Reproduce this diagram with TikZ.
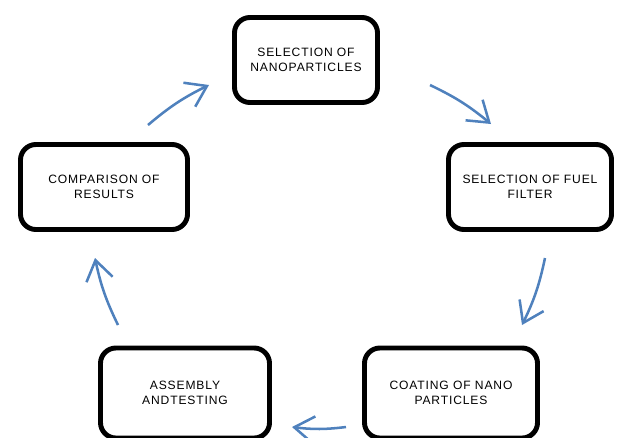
\documentclass[tikz,border=0pt]{standalone}
\usepackage{fontspec}
\setmainfont{Liberation Sans}[LetterSpace=7]
\usepackage{xcolor}
\usetikzlibrary{positioning,arrows.meta}
\definecolor{flow-blue}{RGB}{79,129,189}

\begin{document}
\begin{tikzpicture}[
    x=0.025cm, y=-0.025cm,
    stage/.style={rectangle, draw, line width=3.5pt, rounded corners=11pt, fill=white, align=center, inner sep=0pt, font=\fontsize{8.6}{10.8}\selectfont},
    flow/.style={-{Straight Barb[length=14pt, width=19pt]}, draw=flow-blue, line width=1.8pt, bend left=7}
]
\useasboundingbox (0,0) rectangle (625,437);

% Stages
\node[stage, minimum width=3.575cm, minimum height=2.125cm] (select-np) at (306,60) {SELECTION OF\\NANOPARTICLES};
\node[stage, minimum width=4.075cm, minimum height=2.125cm] (select-filter) at (530,187) {SELECTION OF FUEL\\FILTER};
\node[stage, minimum width=4.325cm, minimum height=2.25cm] (coating) at (451,393) {COATING OF NANO\\PARTICLES};
\node[stage, minimum width=4.225cm, minimum height=2.25cm] (assembly) at (185,393) {ASSEMBLY\\ANDTESTING};
\node[stage, minimum width=4.175cm, minimum height=2.125cm] (compare) at (104,187) {COMPARISON OF\\RESULTS};

% Arrow ends
\coordinate (np-out) at (430,85);
\coordinate (filter-in) at (491,124);
\coordinate (filter-out) at (545,258);
\coordinate (coating-in) at (522,325);
\coordinate (coating-out) at (346,427);
\coordinate (assembly-in) at (292,427);
\coordinate (assembly-out) at (118,325);
\coordinate (compare-in) at (95,258);
\coordinate (compare-out) at (148,125);
\coordinate (np-in) at (209,85);

% Arrows
\draw[flow] (np-out) to (filter-in);
\draw[flow] (filter-out) to (coating-in);
\draw[flow] (coating-out) to (assembly-in);
\draw[flow] (assembly-out) to (compare-in);
\draw[flow] (compare-out) to (np-in);

\end{tikzpicture}
\end{document}
